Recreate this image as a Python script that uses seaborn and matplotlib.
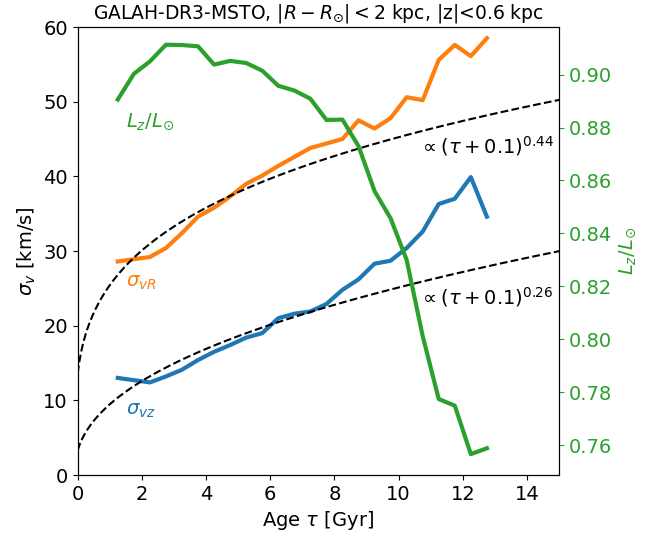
import numpy as np
import pandas as pd
import matplotlib
matplotlib.use("Agg")
import matplotlib.pyplot as plt
import seaborn as sns

# ---- data ----
age = [1.25, 1.75, 2.25, 2.75, 3.25, 3.75, 4.25, 4.75, 5.25, 5.75, 6.25, 6.75,
       7.25, 7.75, 8.25, 8.75, 9.25, 9.75, 10.25, 10.75, 11.25, 11.75, 12.25, 12.75]
sigma_vR = [28.6, 28.9, 29.2, 30.4, 32.4, 34.6, 35.8, 37.3, 39.0, 40.1, 41.4, 42.6,
            43.8, 44.4, 45.0, 47.5, 46.4, 47.8, 50.6, 50.2, 55.6, 57.6, 56.1, 58.5]
sigma_vz = [13.0, 12.7, 12.4, 13.2, 14.1, 15.4, 16.5, 17.4, 18.4, 19.0, 21.0, 21.6,
            21.9, 22.9, 24.8, 26.2, 28.3, 28.7, 30.4, 32.6, 36.3, 37.0, 39.9, 34.6]
Lz = [0.8906, 0.9003, 0.9050, 0.9113, 0.9112, 0.9107, 0.9038, 0.9052, 0.9044, 0.9015,
      0.8958, 0.8940, 0.8909, 0.8829, 0.8830, 0.8730, 0.8560, 0.8457, 0.8300, 0.8012,
      0.7774, 0.7749, 0.7566, 0.7588]

# power-law guide curves (amplitude, exponent)
guide_upper = (24.8, 0.26)
guide_lower = (9.08, 0.44)
tau_grid = np.linspace(0, 15, 300)

df = pd.DataFrame({"age": age, "vR": sigma_vR, "vz": sigma_vz, "Lz": Lz})
guide = pd.DataFrame({"tau": tau_grid,
                      "up": guide_upper[0] * (tau_grid + 0.1) ** guide_upper[1],
                      "lo": guide_lower[0] * (tau_grid + 0.1) ** guide_lower[1]})

plt.rcParams["font.size"] = 14
fig = plt.figure(figsize=(6.6, 5.36), dpi=100)
ax = fig.add_axes([0.1177, 0.1138, 0.7294, 0.8358])

blue, orange, green = "#1f77b4", "#ff7f0e", "#2ca02c"

sns.lineplot(data=df, x="age", y="vR", ax=ax, color=orange, lw=3)
sns.lineplot(data=df, x="age", y="vz", ax=ax, color=blue, lw=3)
sns.lineplot(data=guide, x="tau", y="up", ax=ax, color="k", lw=1.5, linestyle="--")
sns.lineplot(data=guide, x="tau", y="lo", ax=ax, color="k", lw=1.5, linestyle="--")

ax.set_xlim(0, 15)
ax.set_ylim(0, 60)
ax.set_xlabel(r"Age $\tau$ [Gyr]")
ax.set_ylabel(r"$\sigma_v$ [km/s]")
ax.set_title(r"GALAH-DR3-MSTO, $|R-R_{\odot}|<2$ kpc, |z|<0.6 kpc", fontsize=13.5)

ax.text(1.5, 25.8, r"$\sigma_{vR}$", color=orange, fontsize=14, va="center")
ax.text(1.5, 8.7, r"$\sigma_{vz}$", color=blue, fontsize=14, va="center")
ax.text(10.65, 44.1, r"$\propto(\tau+0.1)^{0.44}$", color="k", fontsize=14, va="center")
ax.text(10.65, 23.8, r"$\propto(\tau+0.1)^{0.26}$", color="k", fontsize=14, va="center")

ax2 = ax.twinx()
sns.lineplot(data=df, x="age", y="Lz", ax=ax2, color=green, lw=3)
ax2.set_yticks([0.76, 0.78, 0.80, 0.82, 0.84, 0.86, 0.88, 0.90])
ax2.set_ylim(0.7487, 0.918)
ax2.set_ylabel(r"$L_z/L_{\odot}$", color=green)
ax2.tick_params(axis="y", colors=green)
ax2.spines["right"].set_color("k")
ax.text(1.5, 47.3, r"$L_z/L_{\odot}$", color=green, fontsize=14, va="center")

fig.savefig("out.png", dpi=100)
